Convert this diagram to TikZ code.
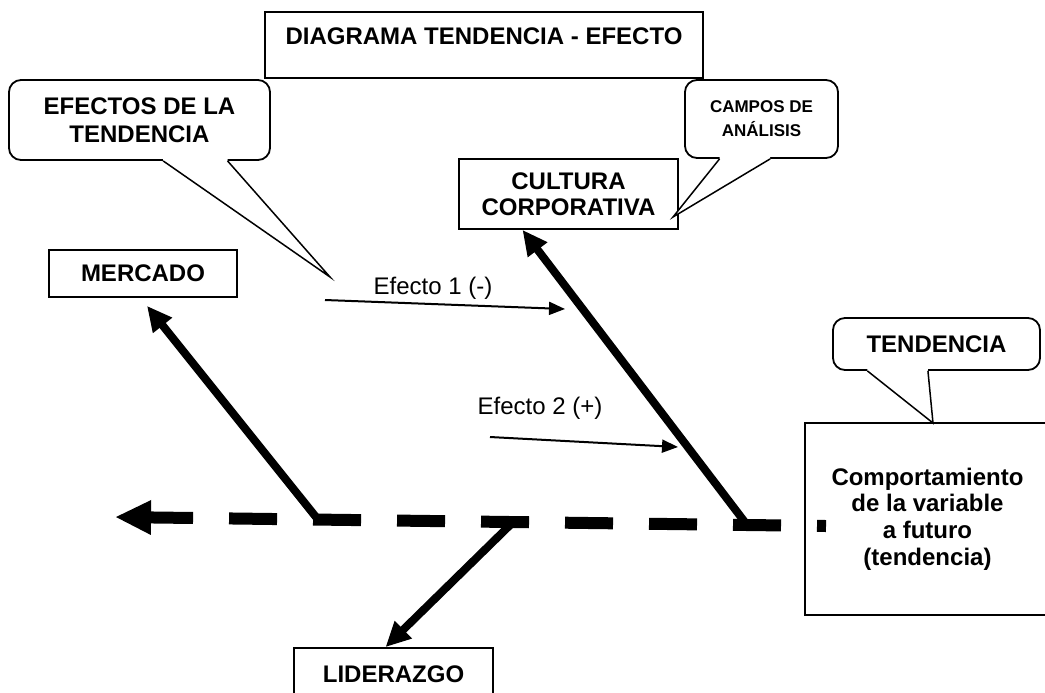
\documentclass[tikz,border=0pt]{standalone}
\usepackage{fontspec}
\setmainfont{Liberation Sans}
\usetikzlibrary{arrows.meta, calc}

\begin{document}
\begin{tikzpicture}[
    x=0.5pt, y=-0.5pt,
    box/.style={rectangle, draw, line width=0.9pt, fill=white, inner sep=0pt, align=center, font=\bfseries\fontsize{12}{13}\selectfont},
    bubble/.style={box, rounded corners=6pt},
    pointer/.style={line width=0.75pt},
    bone/.style={line width=4pt, -{Triangle[length=12.5pt, width=11.5pt]}},
    spine/.style={line width=6pt, dash pattern=on 24pt off 18pt, dash phase=19.5pt, -{Triangle[length=18pt, width=16pt]}},
    effect/.style={line width=1pt, -{Triangle[length=8pt, width=6.5pt]}},
    efflabel/.style={font=\fontsize{12}{14}\selectfont}
]
\useasboundingbox (0,0) rectangle (1045,692);

% Title
\node[box, minimum width=219pt, text height=16pt, text depth=17pt] (title) at (484,45) {DIAGRAMA TENDENCIA - EFECTO};

% Fields
\node[box, minimum width=94pt, minimum height=23.5pt] (mercado) at (143,273.5) {MERCADO};
\node[box, minimum width=109.5pt, minimum height=35pt] (cultura) at (568.5,194) {CULTURA\\CORPORATIVA};
\node[box, minimum width=99.5pt, minimum height=26pt] (liderazgo) at (393.5,674) {LIDERAZGO};
\node[box, minimum width=122.5pt, minimum height=96pt, font=\bfseries\fontsize{12}{13.3}\selectfont] (futuro) at (927.5,519) {Comportamiento\\de la variable\\a futuro\\(tendencia)};

% Callouts
\node[bubble, minimum width=130.5pt, minimum height=40pt, font=\bfseries\fontsize{12}{14}\selectfont] (efectos) at (139.5,120) {EFECTOS DE LA\\TENDENCIA};
\node[bubble, minimum width=76.5pt, minimum height=39pt, font=\bfseries\fontsize{8.5}{12}\selectfont] (campos) at (761.5,119) {CAMPOS DE\\ANÁLISIS};
\node[bubble, minimum width=103.5pt, minimum height=26pt] (tendencia) at (936.5,344) {TENDENCIA};

\foreach \n/\a/\b/\tx/\ty in {efectos/0.59/0.835/330/277, campos/0.229/0.556/673/217, tendencia/0.169/0.459/933/423} {
    \coordinate (\n tip) at (\tx,\ty);
    \fill[white] ($(\n.south west)!\a!(\n.south east)+(0,-2)$) -- ($(\n.south west)!\a!(\n.south east)$) -- (\n tip)
        -- ($(\n.south west)!\b!(\n.south east)$) -- ($(\n.south west)!\b!(\n.south east)+(0,-2)$) -- cycle;
    \draw[pointer] ($(\n.south west)!\a!(\n.south east)$) -- (\n tip) -- ($(\n.south west)!\b!(\n.south east)$);
}

% Spine
\coordinate (tail) at (826,526);
\coordinate (head) at (115,517);
\draw[spine] (tail) -- (head);

% Bones
\coordinate (jm) at ($(head)!0.2855!(tail)$);
\coordinate (jl) at ($(head)!0.56!(tail)$);
\coordinate (jc) at ($(head)!0.889!(tail)$);
\draw[bone] (jm) -- ([xshift=2pt, yshift=-4pt]mercado.south);
\draw[bone] (jc) -- ([xshift=-23pt]cultura.south);
\draw[bone] (jl) -- ([xshift=-4pt]liderazgo.north);

% Effects
\coordinate (e1s) at (325,300);
\coordinate (e1e) at (565,309);
\coordinate (e2s) at (490,437);
\coordinate (e2e) at (678,447);
\draw[effect] (e1s) -- (e1e);
\draw[effect] (e2s) -- (e2e);
\node[efflabel] (e1lab) at (433,288) {Efecto 1 (-)};
\node[efflabel] (e2lab) at (540,408) {Efecto 2 (+)};

\end{tikzpicture}
\end{document}
